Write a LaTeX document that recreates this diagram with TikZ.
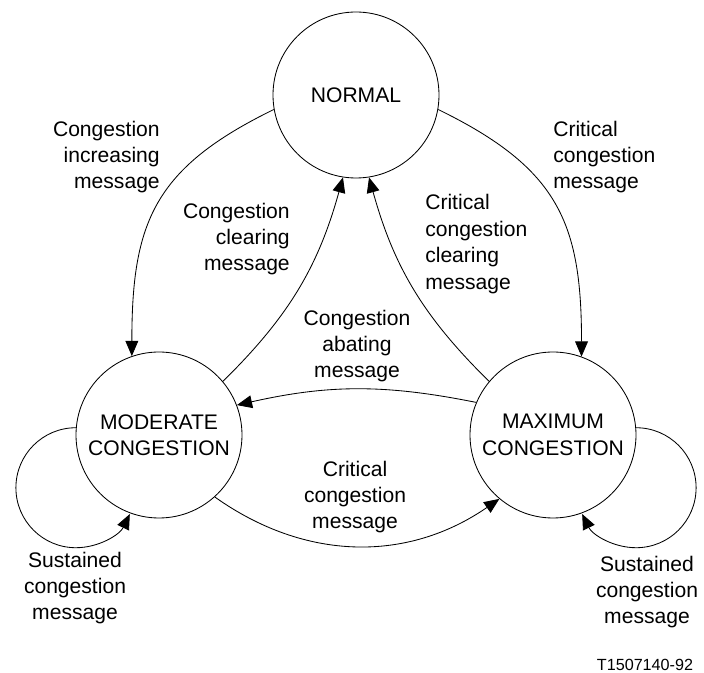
\documentclass[tikz,border=0pt]{standalone}
\usepackage{fontspec}
\setmainfont{Liberation Sans}
\usetikzlibrary{arrows.meta}
\tikzset{
  state/.style={draw, circle, line width=0.6pt, minimum size=4.15cm, inner sep=0pt, align=center, font=\fontsize{15}{18.8}\selectfont},
  link/.style={draw, line width=0.6pt, -{Triangle[length=3.8mm,width=3.2mm]}},
  lab/.style={inner sep=0pt, align=center, font=\fontsize{15}{18.8}\selectfont},
  labl/.style={lab, align=left, anchor=west},
  labr/.style={lab, align=right, anchor=east},
  tag/.style={inner sep=0pt, font=\fontsize{11.5}{14}\selectfont},
}

\begin{document}
\begin{tikzpicture}
  \useasboundingbox (0,0) rectangle (17.6,16.825);
  \node[state] (normal) at (8.9,14.45) {NORMAL};
  \node[state] (moderate) at (3.975,5.95) {MODERATE\\CONGESTION};
  \node[state] (maximum) at (13.825,5.95) {MAXIMUM\\CONGESTION};
  \draw[link] (normal.190) to[out=206,in=90,looseness=1.2] (moderate.109.5);
  \draw[link] (normal.-10) to[out=-26,in=90,looseness=1.2] (maximum.70.5);
  \draw[link] (moderate.40) to[bend right=15] (normal.261);
  \draw[link] (maximum.140) to[bend left=15] (normal.279);
  \draw[link] (maximum.157.7) to[bend right=12] (moderate.21);
  \draw[link] (moderate.-48) to[bend right=35] (maximum.230);
  \draw[link] (moderate.175) arc[start angle=90,end angle=334,radius=1.5cm];
  \draw[link] (maximum.5) arc[start angle=90,end angle=-154,radius=1.5cm];
  \node[labr] (incr) at (4.0,12.9) {Congestion\\increasing\\message};
  \node[labl] (crit) at (13.825,12.9) {Critical\\congestion\\message};
  \node[labr] (clear) at (7.25,10.85) {Congestion\\clearing\\message};
  \node[labl] (critclear) at (10.625,10.725) {Critical\\congestion\\clearing\\message};
  \node[lab] (abate) at (8.925,8.175) {Congestion\\abating\\message};
  \node[lab] (critlow) at (8.875,4.4) {Critical\\congestion\\message};
  \node[lab] (sustl) at (1.875,2.125) {Sustained\\congestion\\message};
  \node[lab] (sustr) at (16.175,2.025) {Sustained\\congestion\\message};
  \node[tag] (fig) at (16.125,0.2) {T1507140-92};
\end{tikzpicture}
\end{document}
